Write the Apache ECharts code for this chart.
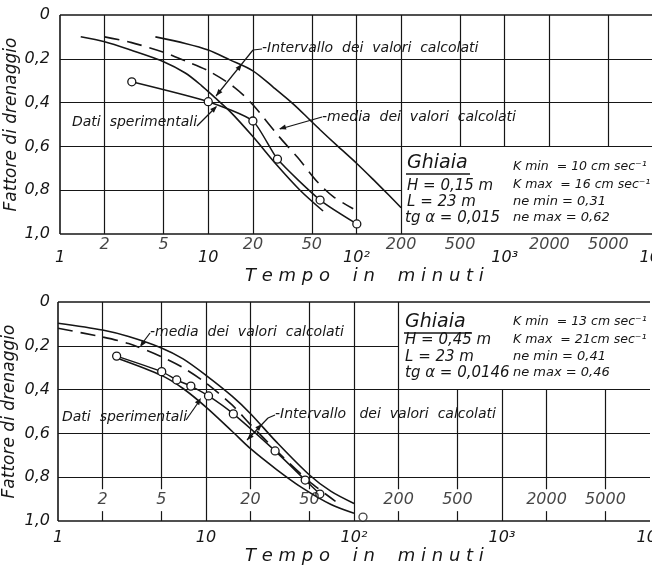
<!DOCTYPE html>
<html><head><meta charset="utf-8">
<script src="https://cdn.jsdelivr.net/npm/echarts@6/dist/echarts.min.js"></script>
<style>html,body{margin:0;padding:0;background:#fff}#c{width:652px;height:568px}</style>
</head><body><div id="c"></div>
<script>
// ---- tick values ----
const decadeTicks = [1, 10, 100, 1000, 10000];
const minorTicks = [2, 5, 20, 50, 200, 500, 2000, 5000];
const yTicks = [0, 0.2, 0.4, 0.6, 0.8, 1.0];

// ---- top panel (H = 0,15 m) ----
const topExp = [[3.05,0.305],[10,0.396],[20,0.484],[29.3,0.658],[56.8,0.845],[100.5,0.954]];
const topMin = [[1.38,0.099],[2,0.122],[3,0.16],[5,0.213],[7,0.265],[9,0.322],[11,0.375],[14,0.44],[20,0.555],[29,0.685],[41.6,0.80],[59.5,0.895]];
const topMedia = [[2,0.10],[3,0.125],[5,0.17],[7,0.21],[10,0.255],[15,0.33],[20,0.41],[30,0.555],[40,0.65],[55,0.765],[70,0.83],[95,0.885]];
const topMax = [[4.4,0.10],[7,0.13],[10,0.16],[14,0.205],[20,0.255],[27.5,0.33],[38,0.41],[48.6,0.48],[57,0.525],[75,0.60],[100,0.677],[130,0.752],[165,0.822],[200,0.88]];

// ---- bottom panel (H = 0,45 m) ----
const botExp = [[2.49,0.247],[5.02,0.318],[6.34,0.356],[7.9,0.384],[10.4,0.429],[15.3,0.511],[29.3,0.68],[46.8,0.813],[58.8,0.877]];
const botExtra = [[115,0.982]];
const botUpper = [[1,0.097],[2,0.128],[3,0.158],[5,0.21],[7,0.26],[10,0.335],[15,0.43],[20,0.51],[30,0.64],[50,0.79],[70,0.865],[100,0.92]];
const botMedia = [[1,0.12],[2,0.16],[3,0.19],[5,0.25],[7,0.30],[10,0.37],[15,0.47],[20,0.56],[30,0.68],[50,0.82],[75,0.91]];
const botLower = [[2.6,0.26],[5,0.335],[7,0.395],[10,0.48],[15,0.59],[20,0.67],[30,0.765],[45,0.85],[70,0.925],[100,0.965]];

const INK = '#161616';
const FONT = '"DejaVu Sans", sans-serif';

// grid segments [x1,y1,x2,y2] in data units
function segsTop(){
  const s = [];
  [2,5,10,20,50,100,200].forEach(t=>s.push([t,0,t,1]));
  [500,1000,2000,5000].forEach(t=>s.push([t,0,t,0.6]));
  [0.2,0.4,0.6].forEach(v=>s.push([1,v,10000,v]));
  s.push([1,0.8,200,0.8]);
  return s;
}
function segsBot(){
  const s = [];
  [2,5,20,50,200].forEach(t=>{s.push([t,0,t,0.855]);s.push([t,0.955,t,1]);});
  [10,100].forEach(t=>s.push([t,0,t,1]));
  [500,2000,5000].forEach(t=>{s.push([t,0.4,t,0.855]);s.push([t,0.955,t,1]);});
  s.push([1000,0.4,1000,1]);
  s.push([1,0.2,200,0.2]);
  [0.4,0.6,0.8].forEach(v=>s.push([1,v,10000,v]));
  return s;
}
function gridSeries(idx, segs){
  return {
    type:'line', xAxisIndex:idx, yAxisIndex:idx, data:[], silent:true, z:1,
    markLine:{ silent:true, symbol:['none','none'], animation:false,
      label:{show:false}, lineStyle:{color:INK,width:1.2,type:'solid'},
      emphasis:{disabled:true},
      data: segs.map(g=>[{coord:[g[0],g[1]]},{coord:[g[2],g[3]]}]) }
  };
}
function frameSeries(idx){
  return {
    type:'line', xAxisIndex:idx, yAxisIndex:idx, data:[], silent:true, z:2,
    markLine:{ silent:true, symbol:['none','none'], animation:false,
      label:{show:false}, lineStyle:{color:INK,width:1.6,type:'solid'},
      data: [[{coord:[1,0]},{coord:[10000,0]}],[{coord:[1,1]},{coord:[10000,1]}],[{coord:[1,0]},{coord:[1,1]}]] }
  };
}
function curve(idx, data, dashed){
  return { type:'line', xAxisIndex:idx, yAxisIndex:idx, data, smooth:0.3, showSymbol:false, symbol:'none', z:5,
    lineStyle:{color:INK, width:1.6, type: dashed ? [15,8] : 'solid'}, animation:false };
}
function expSeries(idx, data){
  return { type:'line', xAxisIndex:idx, yAxisIndex:idx, data, smooth:0.2, symbol:'circle', symbolSize:8, showSymbol:true, z:6,
    itemStyle:{color:'#fff', borderColor:INK, borderWidth:1.3},
    lineStyle:{color:INK, width:1.5}, animation:false };
}
function tickLabels(idx, offsetY){
  return { type:'scatter', xAxisIndex:idx, yAxisIndex:idx, clip:false, symbolSize:0.1, silent:true,
    itemStyle:{color:'rgba(0,0,0,0)'}, z:7,
    data: minorTicks.map(t=>({name:String(t), value:[t,1]})),
    label:{show:true, position:'inside', offset:[0,offsetY], formatter:'{b}', color:INK,
      fontFamily:FONT, fontStyle:'italic', fontSize:16} };
}

const sup = {1:'1',10:'10',100:'10²',1000:'10³',10000:'10⁴'};
function xAxis(idx, margin){
  return { type:'log', logBase:10, min:1, max:10000, gridIndex:idx,
    axisLine:{show:false}, axisTick:{show:false}, splitLine:{show:false}, minorTick:{show:false},
    axisLabel:{ margin, color:INK, fontFamily:FONT, fontStyle:'italic', fontSize:16,
      showMinLabel:true, showMaxLabel:true, hideOverlap:false,
      formatter: v => sup[Math.round(v)] || '' } };
}
function yAxis(idx, margin){
  return { type:'value', inverse:true, min:0, max:1, interval:0.2, gridIndex:idx,
    axisLine:{show:false}, axisTick:{show:false}, splitLine:{show:false},
    name:'Fattore di drenaggio', nameLocation:'middle', nameGap:40, nameRotate:90, nameMoveOverlap:false,
    nameTextStyle:{color:INK, fontFamily:FONT, fontStyle:'italic', fontSize:17},
    axisLabel:{ margin, color:INK, fontFamily:FONT, fontStyle:'italic', fontSize:16,
      formatter: v => v===0 ? '0' : v.toFixed(1).replace('.',',') } };
}

// annotation helpers (pixel layout)
function txt(x, y, text, size){
  return { type:'text', z:20, silent:true,
    style:{ x, y, text, fill:INK, font:'italic '+size+'px '+FONT, textVerticalAlign:'middle', verticalAlign:'middle' } };
}
function seg(x1,y1,x2,y2,w){
  return { type:'line', z:20, silent:true, shape:{x1,y1,x2,y2}, style:{stroke:INK, lineWidth:w||1.2} };
}
function head(xt, yt, xf, yf){ // arrow tip at (xt,yt), coming from (xf,yf)
  const a = Math.atan2(yt-yf, xt-xf), L=7, W=2.6;
  const bx = xt - L*Math.cos(a), by = yt - L*Math.sin(a);
  const px = -Math.sin(a)*W, py = Math.cos(a)*W;
  return { type:'polygon', z:20, silent:true, shape:{points:[[xt,yt],[bx+px,by+py],[bx-px,by-py]]}, style:{fill:INK} };
}

const graphics = [
  // top panel
  txt(245, 276, 'T e m p o    i n    m i n u t i', 18),
  txt(262, 48, '-Intervallo  dei  valori  calcolati', 14),
  seg(262,49,253,50), seg(253,50,216,96), head(216,96,253,50), head(242,64,216,96),
  txt(322, 117, '-media  dei  valori  calcolati', 14),
  seg(322,117,280,129), head(279,129,322,117),
  txt(72, 122, 'Dati  sperimentali', 14),
  seg(197,126,216,107), head(217,106,197,126),
  txt(407, 163, 'Ghiaia', 19), seg(406,174,470,174,1.3),
  txt(407, 186, 'H = 0,15 m', 15), txt(407, 202, 'L = 23 m', 15), txt(405, 218, 'tg α = 0,015', 15),
  txt(513, 167, 'K min  = 10 cm sec⁻¹', 12.5), txt(513, 185, 'K max  = 16 cm sec⁻¹', 12.5),
  txt(513, 202, 'ne min = 0,31', 13), txt(513, 218, 'ne max = 0,62', 13),
  // bottom panel
  txt(245, 556, 'T e m p o    i n    m i n u t i', 18),
  txt(150, 332, '-media  dei  valori  calcolati', 14),
  seg(150,333,141,345), head(140,347,150,333),
  txt(62, 417, 'Dati  sperimentali', 14),
  seg(186,420,200,400), head(201,398,186,420),
  txt(275, 414, '-Intervallo   dei  valori  calcolati', 14),
  seg(275,415,268,418), seg(268,418,247,440), head(247,440,268,418), head(262,424,247,440),
  txt(405, 322, 'Ghiaia', 19), seg(404,333,472,333,1.3),
  txt(405, 340, 'H = 0,45 m', 15), txt(405, 357, 'L = 23 m', 15), txt(405, 373, 'tg α = 0,0146', 15),
  txt(513, 322, 'K min  = 13 cm sec⁻¹', 12.5), txt(513, 340, 'K max  = 21cm sec⁻¹', 12.5),
  txt(513, 357, 'ne min = 0,41', 13), txt(513, 373, 'ne max = 0,46', 13)
];

const chart = echarts.init(document.getElementById('c'), null, {renderer:'canvas'});
chart.setOption({
  backgroundColor:'#fff',
  animation:false,
  textStyle:{fontFamily:FONT},
  grid:[
    {left:60, top:15, width:593, height:219, outerBoundsMode:'none', containLabel:false},
    {left:58, top:302, width:592, height:219, outerBoundsMode:'none', containLabel:false}
  ],
  xAxis:[xAxis(0,16), xAxis(1,9)],
  yAxis:[yAxis(0,10), yAxis(1,8)],
  series:[
    gridSeries(0, segsTop()), frameSeries(0),
    curve(0, topMin, false), curve(0, topMedia, true), curve(0, topMax, false), expSeries(0, topExp),
    tickLabels(0, 11),
    gridSeries(1, segsBot()), frameSeries(1),
    curve(1, botUpper, false), curve(1, botMedia, true), curve(1, botLower, false), expSeries(1, botExp),
    { type:'scatter', xAxisIndex:1, yAxisIndex:1, data:botExtra, symbol:'circle', symbolSize:8, clip:false, z:6,
      itemStyle:{color:'#fff', borderColor:INK, borderWidth:1.3} },
    tickLabels(1, -21)
  ],
  graphic: graphics
});
</script></body></html>
